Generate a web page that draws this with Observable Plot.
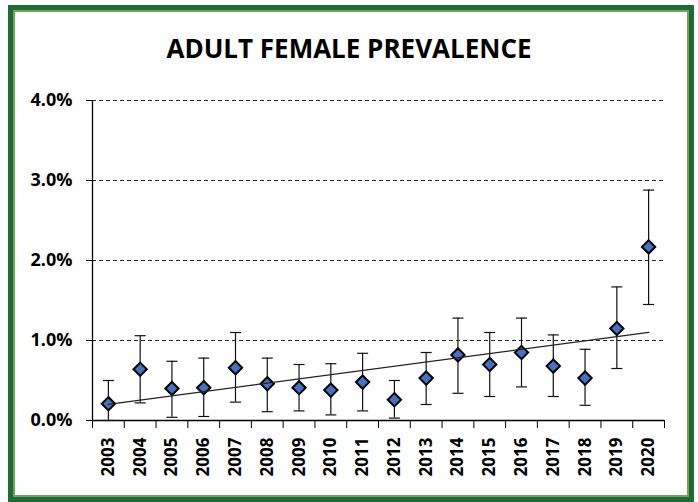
<!DOCTYPE html>
<html><head><meta charset="utf-8">
<script src="https://cdn.jsdelivr.net/npm/d3@7"></script>
<script src="https://cdn.jsdelivr.net/npm/@observablehq/plot@0.6"></script>
<style>
html,body{margin:0;padding:0;background:#fff;width:698px;height:502px;overflow:hidden;position:relative}
#frame{position:absolute;left:8px;top:5px;width:686px;height:497px;box-sizing:border-box;border:5px solid #1d6c36;box-shadow:inset 0 0 0 2px #76a258;pointer-events:none}
#title{position:absolute;left:0;width:698px;top:33px;text-align:center;font-family:"Open Sans";font-weight:700;font-size:26px;color:#000;line-height:1.2}
#chart{position:absolute;left:0;top:0}
</style></head><body>
<div id="chart"></div>
<div id="frame"></div>
<div id="title">ADULT FEMALE PREVALENCE</div>
<script>
const years = [2003,2004,2005,2006,2007,2008,2009,2010,2011,2012,2013,2014,2015,2016,2017,2018,2019,2020];
const prevalence = [0.21,0.64,0.40,0.41,0.66,0.46,0.41,0.38,0.48,0.26,0.53,0.82,0.70,0.85,0.68,0.53,1.15,2.17];
const lower = [0.00,0.22,0.04,0.05,0.23,0.11,0.12,0.07,0.12,0.03,0.20,0.34,0.30,0.42,0.30,0.19,0.65,1.45];
const upper = [0.50,1.06,0.74,0.78,1.10,0.78,0.70,0.71,0.84,0.50,0.85,1.28,1.10,1.28,1.07,0.89,1.67,2.88];
const yTicks = [0,1,2,3,4];

const data = years.map((year,i)=>({year, value: prevalence[i], lo: lower[i], hi: upper[i]}));
const boundaries = [...years.map(y=>y-0.5), years[years.length-1]+0.5];
const capSymbol = {draw(ctx){ const w = 5.5; ctx.moveTo(-w,0); ctx.lineTo(w,0); }};

const chart = Plot.plot({
  width: 698, height: 502,
  marginLeft: 92, marginRight: 34, marginTop: 100, marginBottom: 82,
  style: {background: "transparent", fontFamily: "Open Sans", color: "#000"},
  x: {type: "linear", domain: [boundaries[0], boundaries[boundaries.length-1]], label: null},
  y: {domain: [0,4], label: null},
  marks: [
    Plot.gridY(yTicks.slice(1), {stroke: "#000", strokeOpacity: 0.85, strokeDasharray: "4,3", strokeWidth: 1}),
    Plot.axisY(yTicks, {tickFormat: d => d.toFixed(1) + "%", tickSize: 6, tickPadding: 14, fontSize: 18, fontWeight: 700, stroke: "#000", strokeOpacity: 1, label: null}),
    Plot.axisX(boundaries, {tickSize: 8, tickFormat: () => "", stroke: "#000", strokeOpacity: 1, label: null}),
    Plot.axisX(years, {tickSize: 0, tickRotate: -90, tickPadding: 17, tickFormat: d => String(d), fontSize: 17, fontWeight: 700, label: null}),
    Plot.ruleX([boundaries[0]], {stroke: "#000", strokeWidth: 1.3}),
    Plot.ruleY([0], {stroke: "#000", strokeWidth: 1.3}),
    Plot.ruleX(data, {x: "year", y1: "lo", y2: "hi", stroke: "#111", strokeWidth: 1.2}),
    Plot.dot(data, {x: "year", y: "hi", symbol: capSymbol, fill: "none", stroke: "#111", strokeWidth: 1.2}),
    Plot.dot(data, {x: "year", y: "lo", symbol: capSymbol, fill: "none", stroke: "#111", strokeWidth: 1.2}),
    Plot.dot(data, {x: "year", y: "value", symbol: "diamond2", r: 6, fill: "#4472c4", stroke: "#000", strokeWidth: 2}),
    Plot.linearRegressionY(data, {x: "year", y: "value", stroke: "#222", strokeWidth: 1.3, ci: 0})
  ]
});
document.getElementById("chart").appendChild(chart);
</script></body></html>
